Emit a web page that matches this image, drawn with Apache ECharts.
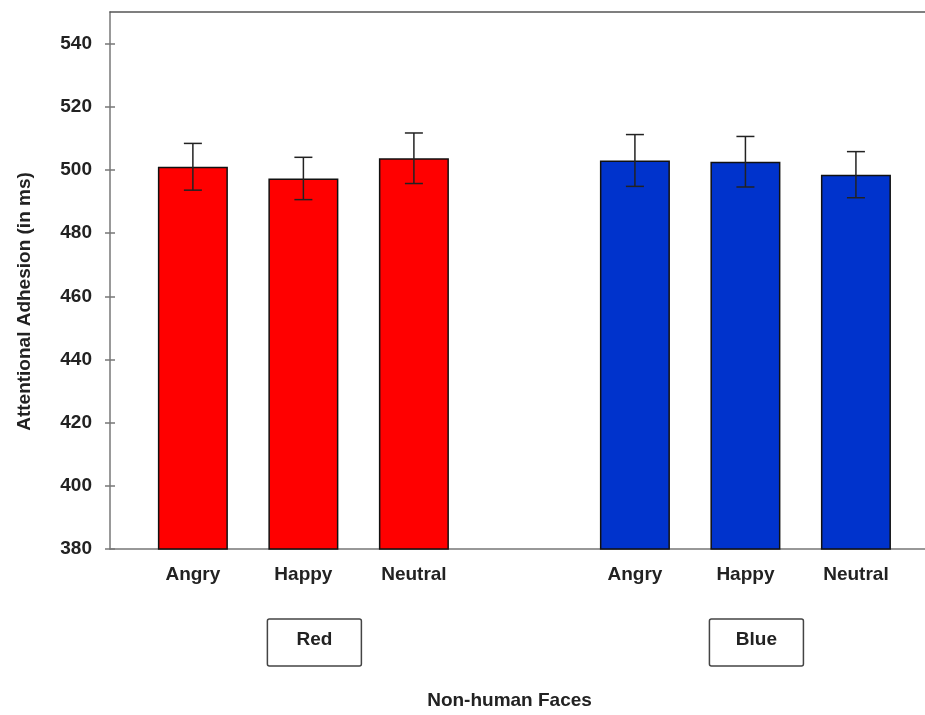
<!DOCTYPE html>
<html>
<head>
<meta charset="utf-8">
<script src="https://cdn.jsdelivr.net/npm/echarts/dist/echarts.min.js"></script>
<style>
  html, body { margin: 0; padding: 0; background: #fff; }
  #chart { width: 925px; height: 715px; }
</style>
</head>
<body>
<div id="chart"></div>
<script>
// ---- data ----
const categories = ['Angry', 'Happy', 'Neutral'];
const groups = ['Red', 'Blue'];
const redMeans = [501.0, 497.3, 503.7];
const redErrors = [7.4, 6.7, 8.0];
const blueMeans = [503.0, 502.6, 498.5];
const blueErrors = [8.2, 8.0, 7.3];
const yTicks = [380, 400, 420, 440, 460, 480, 500, 520, 540];
const yAxisTitle = 'Attentional Adhesion (in ms)';
const xAxisTitle = 'Non-human Faces';

// ---- layout helpers (slot index along a value axis) ----
const groupStart = [1, 5];
const groupColors = ['#ff0000', '#0033cc'];
const allMeans = [redMeans, blueMeans];
const allErrors = [redErrors, blueErrors];

const slotPositions = [];
groupStart.forEach(s => categories.forEach((c, i) => slotPositions.push(s + i)));

function slotName(v) {
  for (let g = 0; g < groupStart.length; g++) {
    const i = v - groupStart[g];
    if (i >= 0 && i < categories.length && Math.abs(i - Math.round(i)) < 1e-9) return categories[Math.round(i)];
  }
  return '';
}

const barSeries = groups.map((name, g) => ({
  name: name,
  type: 'bar',
  barWidth: 70,
  barGap: '-100%',
  data: allMeans[g].map((m, i) => [groupStart[g] + i, m]),
  itemStyle: { color: groupColors[g], borderColor: '#111', borderWidth: 1.5 },
  z: 2
}));

const errData = [];
groups.forEach((name, g) => {
  allMeans[g].forEach((m, i) => errData.push([groupStart[g] + i, m - allErrors[g][i], m + allErrors[g][i]]));
});

const errSeries = {
  type: 'custom',
  z: 5,
  data: errData,
  renderItem: function (params, api) {
    const x = api.value(0);
    const lo = api.coord([x, api.value(1)]);
    const hi = api.coord([x, api.value(2)]);
    const hw = 9;
    const style = { stroke: '#222', lineWidth: 1.5 };
    return {
      type: 'group',
      children: [
        { type: 'line', shape: { x1: lo[0], y1: lo[1], x2: hi[0], y2: hi[1] }, style: style },
        { type: 'line', shape: { x1: hi[0] - hw, y1: hi[1], x2: hi[0] + hw, y2: hi[1] }, style: style },
        { type: 'line', shape: { x1: lo[0] - hw, y1: lo[1], x2: lo[0] + hw, y2: lo[1] }, style: style }
      ]
    };
  }
};

const fontFamily = '"Liberation Sans", Arial, sans-serif';

const groupLabelSeries = {
  type: 'custom',
  clip: false,
  z: 5,
  data: groups.map((name, g) => [groupStart[g] + (categories.length - 1) / 2, yTicks[0], name]),
  renderItem: function (params, api) {
    const p = api.coord([api.value(0), api.value(1)]);
    const cx = p[0] + 11;
    const top = p[1] + 70;
    const w = 94, h = 47;
    return {
      type: 'group',
      children: [
        { type: 'rect', shape: { x: cx - w / 2, y: top, width: w, height: h, r: 2 },
          style: { fill: '#fff', stroke: '#444', lineWidth: 1.5 } },
        { type: 'text', style: { text: groups[params.dataIndex], x: cx, y: top + h / 2 - 3,
          align: 'center', verticalAlign: 'middle', fill: '#222',
          font: 'bold 19px ' + fontFamily } }
      ]
    };
  }
};

const chart = echarts.init(document.getElementById('chart'), null, { renderer: 'canvas' });
chart.setOption({
  animation: false,
  backgroundColor: '#fff',
  textStyle: { fontFamily: fontFamily },
  grid: { left: 110, top: 12, bottom: 166, right: 0 },
  xAxis: [{
    type: 'value',
    min: 0.25, max: 7.625, interval: 0.25,
    splitLine: { show: false },
    axisTick: { show: false },
    axisLine: { show: true, onZero: false, lineStyle: { color: '#777', width: 1.5 } },
    axisLabel: {
      margin: 16,
      customValues: slotPositions,
      formatter: slotName,
      color: '#222', fontSize: 19, fontWeight: 'bold', fontFamily: fontFamily
    },
    name: xAxisTitle,
    nameLocation: 'middle',
    nameGap: 142,
    nameTextStyle: { color: '#222', fontSize: 19, fontWeight: 'bold', fontFamily: fontFamily, padding: [0, 16, 0, 0] }
  }, {
    type: 'value',
    position: 'top',
    min: 0.25, max: 7.625,
    splitLine: { show: false },
    axisTick: { show: false },
    axisLabel: { show: false },
    axisLine: { show: true, onZero: false, lineStyle: { color: '#555', width: 1.5 } }
  }],
  yAxis: [{
    type: 'value',
    min: yTicks[0], max: 550, interval: yTicks[1] - yTicks[0],
    splitLine: { show: false },
    axisLine: { show: true, lineStyle: { color: '#777', width: 1.5 } },
    axisTick: { show: true, length: 5, customValues: yTicks, lineStyle: { color: '#777', width: 1.5 } },
    axisLabel: {
      margin: 18,
      customValues: yTicks,
      color: '#222', fontSize: 19, fontWeight: 'bold', fontFamily: fontFamily
    },
    name: yAxisTitle,
    nameLocation: 'middle',
    nameGap: 76,
    nameTextStyle: { color: '#222', fontSize: 19, fontWeight: 'bold', fontFamily: fontFamily, padding: [0, 42, 0, 0] }
  }, {
    type: 'value',
    min: yTicks[0], max: 550, interval: yTicks[1] - yTicks[0],
    position: 'left',
    splitLine: { show: false },
    axisLine: { show: false },
    axisLabel: { show: false },
    axisTick: { show: true, inside: true, length: 5, customValues: yTicks, lineStyle: { color: '#777', width: 1.5 } }
  }],
  series: [...barSeries, errSeries, groupLabelSeries]
});
</script>
</body>
</html>
